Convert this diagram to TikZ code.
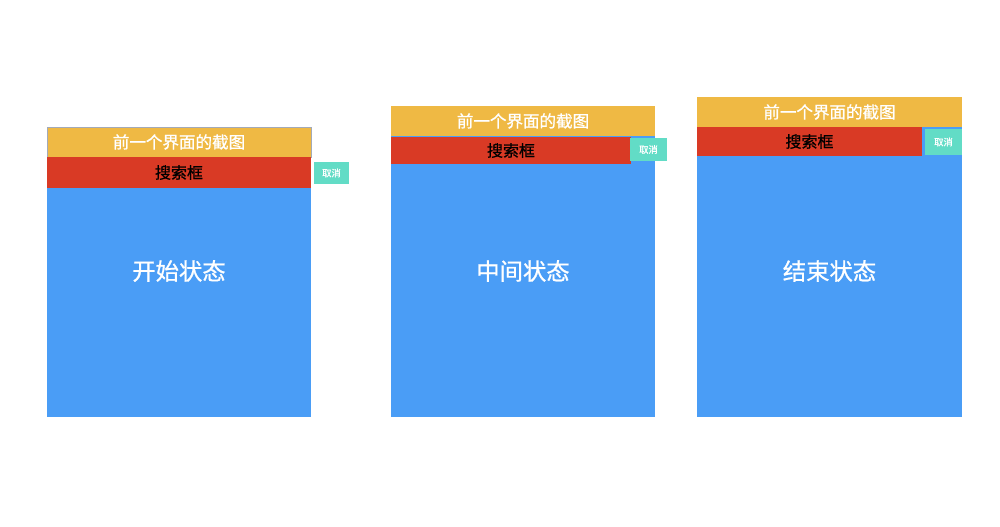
\documentclass[tikz,border=0pt]{standalone}
\usepackage{fontspec}
\newfontfamily\cjk{Noto Sans CJK SC}[FakeBold=0.9]
\def\px{0.75pt}
\definecolor{shotyellow}{HTML}{EFB944}
\definecolor{searchred}{HTML}{D93A25}
\definecolor{pageblue}{HTML}{4A9DF6}
\definecolor{canceltea}{HTML}{62DCC6}
\definecolor{framegray}{HTML}{A3AAB8}
\begin{document}
\begin{tikzpicture}[x=0.75pt, y=-0.75pt,
    box/.style={inner sep=0, outer sep=0, font=\cjk},
    page/.style={box, fill=pageblue, minimum width=#1*\px},
    shot/.style={box, fill=shotyellow, text=white, minimum height=30*\px, font=\cjk\fontsize{12.4}{14}\selectfont},
    search/.style={box, fill=searchred, text=black, font=\cjk\fontsize{12}{14}\selectfont},
    cancel/.style={box, fill=canceltea, text=white, font=\cjk\fontsize{7}{8}\selectfont},
    title/.style={text=white, font=\cjk\fontsize{17.5}{20}\selectfont}]
    \useasboundingbox[fill=white] (0,0) rectangle (1000,526);

    % start
    \draw (179,287) node[page=264, minimum height=260*\px] (p1) {};
    \draw (179,142) node[shot, minimum width=264*\px, draw=framegray] (s1) {前一个界面的截图};
    \draw (179,172.5) node[search, minimum width=264*\px, minimum height=31*\px] (r1) {搜索框};
    \draw (331.5,173) node[cancel, minimum width=35*\px, minimum height=22*\px] (c1) {取消};
    \draw (179,271) node[title] (t1) {开始状态};

    % middle
    \draw (523,276.5) node[page=264, minimum height=281*\px] (p2) {};
    \draw (523,121) node[shot, minimum width=264*\px] (s2) {前一个界面的截图};
    \draw (511,150.5) node[search, minimum width=240*\px, minimum height=27*\px] (r2) {搜索框};
    \draw (648.5,149.5) node[cancel, minimum width=37*\px, minimum height=23*\px] (c2) {取消};
    \draw (523,271) node[title] (t2) {中间状态};

    % end
    \draw (829.5,272) node[page=265, minimum height=290*\px] (p3) {};
    \draw (829.5,112) node[shot, minimum width=265*\px] (s3) {前一个界面的截图};
    \draw (809.5,141.5) node[search, minimum width=225*\px, minimum height=29*\px] (r3) {搜索框};
    \draw (943.5,142) node[cancel, minimum width=37*\px, minimum height=26*\px] (c3) {取消};
    \draw (829.5,271) node[title] (t3) {结束状态};
\end{tikzpicture}
\end{document}
